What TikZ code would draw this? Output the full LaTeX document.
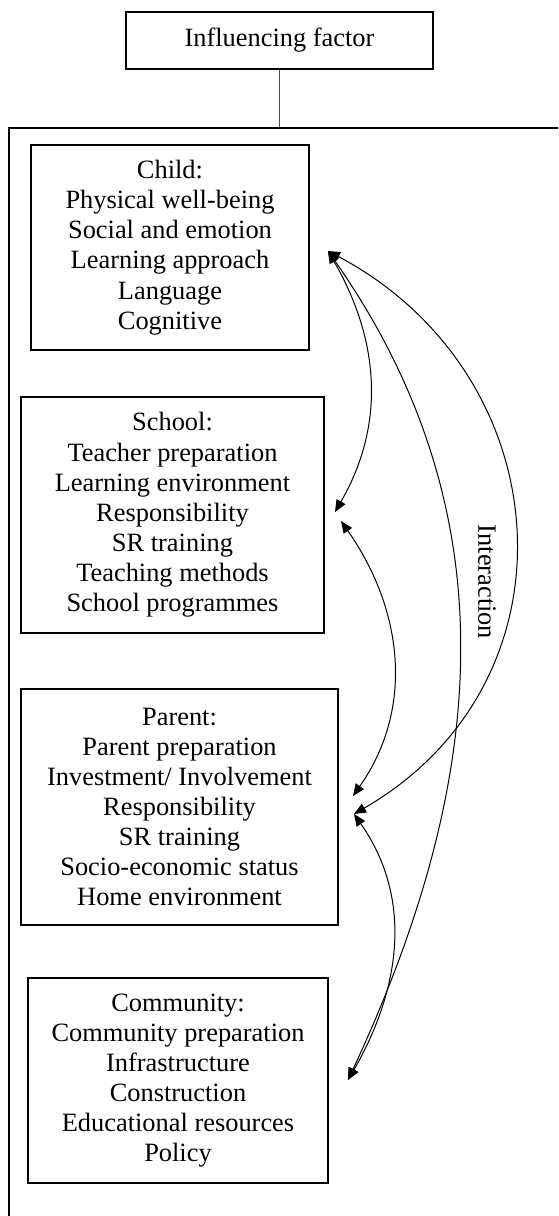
\documentclass[tikz,border=0pt]{standalone}
\usepackage{fontspec}
\setmainfont{Liberation Serif}
\usepackage{tkz-euclide}
\usetikzlibrary{arrows.meta}

\tikzset{%
  box/.style={draw, line width=1.8pt, align=center, inner sep=0pt,
    font=\fontsize{19.8}{22.6}\selectfont},%
  frame/.style={line width=1.6pt},%
  link/.style={{Triangle[length=9pt,width=7.5pt]}-{Triangle[length=9pt,width=7.5pt]},
    line width=0.75pt},%
}

\begin{document}
\begin{tikzpicture}[x=0.75pt,y=-0.75pt]
        \useasboundingbox (0,0) rectangle (558,1216);%

        % boxes
        \node[box, minimum width=230.25pt, minimum height=42.75pt] (factor) at (279.5,40.5)
          {Influencing factor};%
        \node[box, minimum width=208.5pt, minimum height=153.75pt] (child) at (170,247.5)
          {Child:\\ Physical well-being\\ Social and emotion\\ Learning approach\\
           Language\\ Cognitive};%
        \node[box, minimum width=227.25pt, minimum height=177pt] (school) at (172.5,515)
          {School:\\ Teacher preparation\\ Learning environment\\ Responsibility\\
           SR training\\ Teaching methods\\ School programmes};%
        \node[box, minimum width=237.75pt, minimum height=177pt] (parent) at (179.5,807)
          {Parent:\\ Parent preparation\\ Investment/ Involvement\\ Responsibility\\
           SR training\\ Socio-economic status\\ Home environment};%
        \node[box, minimum width=225pt, minimum height=153.75pt] (community) at (178,1080.5)
          {Community:\\ Community preparation\\ Infrastructure\\ Construction\\
           Educational resources\\ Policy};%

        % frame
        \tkzDefPoint(279.5,128){J}%
        \draw[gray!60!black, line width=0.75pt] (factor.south) -- (J);%
        \draw[frame] (558,128) -- (9,128) -- (9,1216);%

        % interaction arrows
        \tkzDefPoint(328,251){C}%
        \tkzDefPoint(335,512){S_1} \tkzDefPoint(341,521){S_2}%
        \tkzDefPoint(353,796){P_1} \tkzDefPoint(354,814){P_2}%
        \tkzDefPoint(348,1080){Q}%

        \foreach \a/\b/\o/\i/\l in {C/S_1/-60/60/1, S_2/P_1/-55/55/1, C/P_2/-28/30/1.2,
                                    C/Q/-55/65/1, P_2/Q/-55/60/1}%
          {\draw[link] (\a) to[out=\o, in=\i, looseness=\l] (\b);}%

        \node[rotate=-90, font=\fontsize{19.8}{22.6}\selectfont] (interaction) at (487,582)
          {Interaction};%
\end{tikzpicture}
\end{document}
